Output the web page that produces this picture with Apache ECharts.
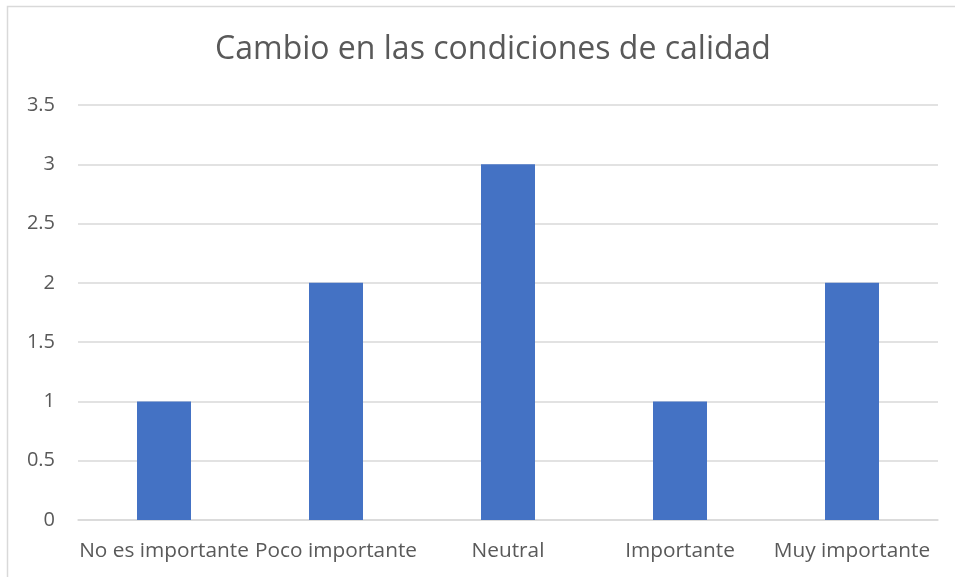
<!DOCTYPE html>
<html>
<head>
<meta charset="utf-8">
<script src="https://cdn.jsdelivr.net/npm/echarts@6/dist/echarts.min.js"></script>
<style>
  html, body { margin: 0; padding: 0; background: #fff; }
  #chart { width: 955px; height: 577px; }
</style>
</head>
<body>
<div id="chart"></div>
<script>
const categories = ['No es importante', 'Poco importante', 'Neutral', 'Importante', 'Muy importante'];
const values = [1, 2, 3, 1, 2];
const yTicks = { min: 0, max: 3.5, interval: 0.5 };

const chart = echarts.init(document.getElementById('chart'));
const textColor = '#595959';
const font = '"Open Sans", "Noto Sans", sans-serif';

chart.setOption({
  animation: false,
  backgroundColor: '#fff',
  title: {
    text: 'Cambio en las condiciones de calidad',
    left: 488,
    top: 29,
    textAlign: 'center',
    textStyle: { color: textColor, fontSize: 32, fontWeight: 'normal', fontFamily: font }
  },
  graphic: [{
    type: 'rect',
    shape: { x: 7.5, y: 6.5, width: 1200, height: 1200 },
    style: { fill: 'none', stroke: '#d9d9d9', lineWidth: 1.5 },
    silent: true
  }],
  grid: { left: 78, right: 17, top: 105, bottom: 57, containLabel: false },
  xAxis: {
    type: 'category',
    data: categories,
    axisLine: { lineStyle: { color: '#d9d9d9', width: 1.5 } },
    axisTick: { show: false },
    axisLabel: { color: textColor, fontSize: 20.8, fontFamily: font, margin: 21, interval: 0 }
  },
  yAxis: {
    type: 'value',
    min: yTicks.min,
    max: yTicks.max,
    interval: yTicks.interval,
    axisLine: { show: false },
    axisTick: { show: false },
    splitLine: { lineStyle: { color: '#d9d9d9', width: 1.5 } },
    axisLabel: { color: textColor, fontSize: 20, fontFamily: font, margin: 23 }
  },
  series: [{
    type: 'bar',
    data: values,
    barWidth: 54,
    itemStyle: { color: '#4472C4' }
  }]
});
</script>
</body>
</html>
